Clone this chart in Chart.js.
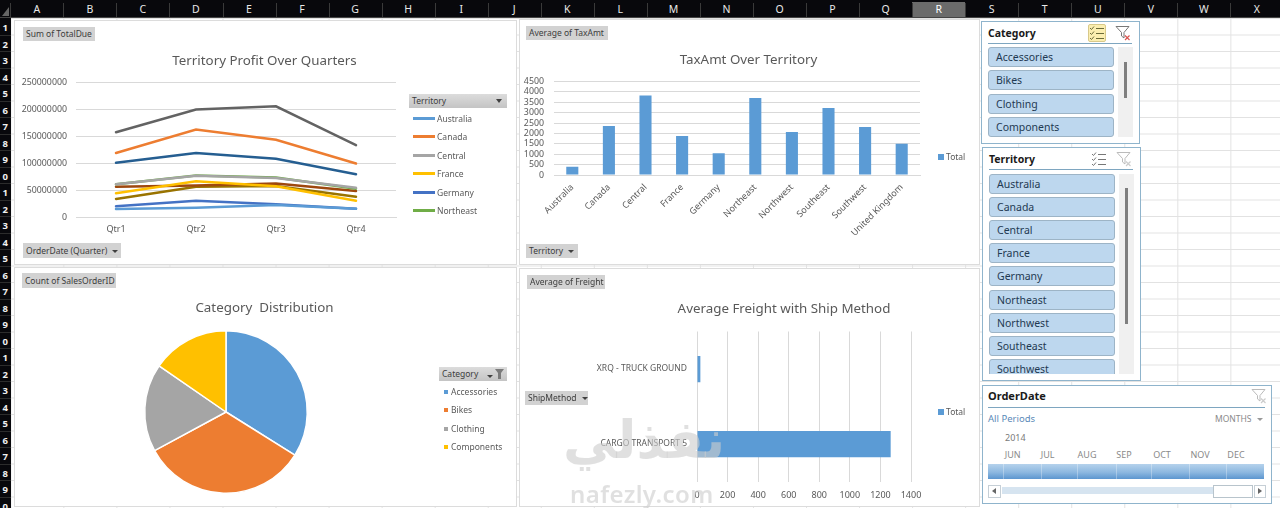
<!DOCTYPE html>
<html><head><meta charset="utf-8">
<script src="https://cdn.jsdelivr.net/npm/chart.js@4/dist/chart.umd.min.js"></script>
<style>
html,body{margin:0;padding:0;background:#fff;overflow:hidden}
#sheet{position:relative;width:1280px;height:508px;overflow:hidden;font-family:"Noto Sans",sans-serif;
 background-color:#fff;
 background-image:linear-gradient(to right,#e2e2e2 1px,transparent 1px),linear-gradient(to bottom,#e2e2e2 1px,transparent 1px);
 background-size:53.05px 16.5px;background-position:10.3px 18px}
.abs{position:absolute;white-space:nowrap;box-sizing:border-box}
#colhead{left:0;top:0;width:1280px;height:18px;background:#08080c;border-bottom:1px solid #444}
#rowhead{left:0;top:18px;width:11px;height:490px;background:#08080c}
.col{position:absolute;top:2px;height:15px;width:53px;color:#e8e8e8;text-align:center;font:10.5px/15px "Noto Sans",sans-serif}
.row{position:absolute;right:3px;color:#f0f0f0;font:bold 9.5px/12px "Noto Sans",sans-serif}
.panel{position:absolute;background:#fff;border:1px solid #dcdcdc;box-sizing:border-box}
canvas{position:absolute;display:block}
.fbtn{position:absolute;background:#d2d2d2;color:#3c3c3c;font:8.5px/14px "Noto Sans",sans-serif;padding-left:3px;box-sizing:border-box;white-space:nowrap}
.fbtn i{display:inline-block;width:0;height:0;border-left:3px solid transparent;border-right:3px solid transparent;border-top:3px solid #404040;margin-left:5px;vertical-align:1px}
.lg{position:absolute;color:#595959;font:8.5px/12px "Noto Sans",sans-serif;white-space:nowrap}
.mark{position:absolute}
.slicer{position:absolute;background:#fff;border:1px solid #8fb4cc;box-sizing:border-box}
.sl-title{position:absolute;font:bold 10.5px/14px "Noto Sans",sans-serif;color:#1a1a1a}
.sl-rule{position:absolute;height:1px;background:#7ea6c0}
.sl-clip{position:absolute;overflow:hidden}
.sl-item{position:absolute;left:0;width:126px;height:20px;background:#bdd7ee;border:1px solid #9db4c6;border-radius:3px;box-sizing:border-box;color:#1f3a52;font:10.5px/18px "Noto Sans",sans-serif;padding-left:7px}
.track{position:absolute;background:#f0f0f0}
.thumb{position:absolute;background:#7f7f7f}
.t{position:absolute;white-space:nowrap}
#wm1,#wm2{position:absolute;color:rgba(205,205,205,.62);white-space:nowrap;z-index:5}
</style></head>
<body><div id="sheet">
<div id="colhead" class="abs"></div><div id="rowhead" class="abs"></div>
<svg class="abs" style="left:2px;top:7px" width="7" height="9"><path d="M7 0V9H0Z" fill="#666"/></svg>
</div>
<script>
// ---------- data ----------
const quarters = ["Qtr1","Qtr2","Qtr3","Qtr4"];
const territoryNames = ["Australia","Canada","Central","France","Germany","Northeast","Northwest","Southeast","Southwest","United Kingdom"];
const australia = [15000000,17000000,22000000,15500000];
const canada    = [118500000,162000000,143000000,99000000];
const central   = [60500000,76500000,72000000,54000000];
const france    = [44000000,66000000,57000000,30000000];
const germany   = [20000000,30000000,23500000,15500000];
const northeast = [60500000,77000000,73000000,52500000];
const northwest = [100500000,118500000,108000000,79000000];
const southeast = [56000000,58500000,62000000,48000000];
const southwest = [157000000,199000000,205000000,133000000];
const unitedKingdom = [33500000,56000000,57500000,37500000];
const taxAmt = [400,2354,3827,1874,1041,3700,2066,3219,2306,1505];
const categories = ["Accessories","Bikes","Clothing","Components"];
const categoryShare = [33.9,33.2,17.5,15.4];
const shipMethods = ["XRQ - TRUCK GROUND","CARGO TRANSPORT 5"];
const avgFreight = [22,1267];
const months = ["JUN","JUL","AUG","SEP","OCT","NOV","DEC"];
const columnLetters = "ABCDEFGHIJKLMNOPQRSTUVWX".split("");

// ---------- palette ----------
const lineColors = ["#5B9BD5","#ED7D31","#A5A5A5","#FFC000","#4472C4","#70AD47","#255E91","#9E480E","#636363","#997300"];
const pieColors = ["#5B9BD5","#ED7D31","#A5A5A5","#FFC000"];
const inkColor = "#595959", gridColor = "#d9d9d9", FF = '"Noto Sans",sans-serif';

const sheet = document.getElementById("sheet");
function el(tag, cls, css, text, parent){
  const e=document.createElement(tag); if(cls)e.className=cls;
  if(css)e.style.cssText=css; if(text!=null)e.textContent=text; (parent||sheet).appendChild(e); return e;
}
// ---------- worksheet chrome ----------
const colhead=document.getElementById("colhead"), rowhead=document.getElementById("rowhead");
columnLetters.forEach((c,i)=>{
  const x=10.3+53.05*i;
  const on=c==="R";
  el("div","col",`left:${x}px;${on?"background:#6b6b6b;color:#fff;":""}`,c,colhead);
  el("div","",`position:absolute;left:${x}px;top:3px;width:1px;height:14px;background:#3a3a3a`,null,colhead);
});
for(let r=1;r<=30;r++){ el("div","row",`top:${4+(r-1)*16.5}px`,String(r%10),rowhead);
  el("div","",`position:absolute;left:0;width:11px;height:1px;background:#2c2c2c;top:${(r)*16.5}px`,null,rowhead);}

// ---------- chart panels ----------
const panels = {
  line:{x:14,y:20,w:503,h:245}, bar:{x:519,y:19,w:461,h:246},
  pie:{x:14,y:267,w:503,h:240}, freight:{x:519,y:268,w:461,h:239}
};
const titleSize = 13.35;
const titleFont = {family:FF,size:titleSize,weight:"normal"};
const tickFont = {family:FF,size:9};
const valueFont = {family:FF,size:8.8};
const titleLH = titleSize*1.2;
const titlePlace = {id:"titlePlace",afterLayout(ch){
  const c=ch.options.plugins.titlePlace.cx; if(c==null)return;
  ch.titleBlock.left=c-150; ch.titleBlock.right=c+150;
}};
function makeCanvas(p){
  const d=el("div","panel",`left:${p.x}px;top:${p.y}px;width:${p.w}px;height:${p.h}px`);
  const c=el("canvas","",`left:0;top:0`,null,d);
  c.width=p.w-2;c.height=p.h-2;c.style.width=(p.w-2)+"px";c.style.height=(p.h-2)+"px";
  return c;
}
function titleOpt(text,p,plotTop,cy){
  const top=cy+1-(p.y+1)-titleLH/2;
  return {display:true,text,color:inkColor,font:titleFont,
    padding:{top,bottom:plotTop-(p.y+1)-top-titleLH}};
}
function base(p,plot,title,cx,cy){
  return {responsive:false,animation:false,devicePixelRatio:1,
    layout:{padding:{left:0,top:0,right:(p.x+p.w-1)-plot.r,bottom:0}},
    plugins:{legend:{display:false},tooltip:{enabled:false},title:titleOpt(title,p,plot.t,cy),
      titlePlace:{cx:cx-(p.x+1)}}};
}
const grid={color:gridColor,lineWidth:1,drawTicks:false};
const noGrid={display:false,drawTicks:false};

// line chart
{
  const p=panels.line, plot={l:76,r:396,t:82,b:217};
  const series=[australia,canada,central,france,germany,northeast,northwest,southeast,southwest,unitedKingdom];
  const opt=base(p,plot,"Territory Profit Over Quarters",264.5,60);
  opt.scales={
    x:{offset:true,grid:noGrid,border:{display:true,color:gridColor},
      ticks:{color:inkColor,font:tickFont,padding:7,maxRotation:0},
      afterFit:s=>{s.height=(p.y+p.h-1)-plot.b}},
    y:{min:0,max:250000000,grid,border:{display:false},
      ticks:{stepSize:50000000,autoSkip:false,color:inkColor,font:valueFont,padding:9,callback:v=>String(v)},
      afterFit:s=>{s.width=plot.l-(p.x+1)}}
  };
  new Chart(makeCanvas(p),{type:"line",plugins:[titlePlace],
    data:{labels:quarters,datasets:series.map((d,i)=>({label:territoryNames[i],data:d,borderColor:lineColors[i],
      backgroundColor:lineColors[i],borderWidth:2.5,pointRadius:0,tension:0,fill:false,borderCapStyle:"round"}))},
    options:opt});
}
// tax bars
{
  const p=panels.bar, plot={l:554,r:920,t:81.5,b:175};
  const opt=base(p,plot,"TaxAmt Over Territory",748.5,59);
  opt.scales={
    x:{grid:noGrid,border:{display:true,color:gridColor},
      ticks:{color:inkColor,font:tickFont,padding:7,minRotation:45,maxRotation:45,autoSkip:false},
      afterFit:s=>{s.height=(p.y+p.h-1)-plot.b}},
    y:{min:0,max:4500,grid,border:{display:false},
      ticks:{stepSize:500,autoSkip:false,color:inkColor,font:valueFont,padding:10,callback:v=>String(v)},
      afterFit:s=>{s.width=plot.l-(p.x+1)}}
  };
  new Chart(makeCanvas(p),{type:"bar",plugins:[titlePlace],
    data:{labels:territoryNames,datasets:[{label:"Total",data:taxAmt,backgroundColor:"#5B9BD5",barPercentage:0.33,categoryPercentage:1}]},
    options:opt});
}
// pie
{
  const p=panels.pie, plot={l:144,r:308,t:330,b:494};
  const opt=base(p,plot,"Category  Distribution",264.5,306.7);
  opt.layout.padding={left:plot.l-(p.x+1),right:(p.x+p.w-1)-plot.r,top:0,bottom:(p.y+p.h-1)-plot.b};
  new Chart(makeCanvas(p),{type:"pie",plugins:[titlePlace],
    data:{labels:categories,datasets:[{data:categoryShare,backgroundColor:pieColors,borderColor:"#fff",borderWidth:1.5}]},
    options:opt});
}
// freight bars
{
  const p=panels.freight, plot={l:697,r:911,t:331.5,b:481.5};
  const opt=base(p,plot,"Average Freight with Ship Method",784,308.3);
  opt.scales={
    x:{min:0,max:1400,grid,border:{display:false},
      ticks:{stepSize:200,autoSkip:false,color:inkColor,font:tickFont,padding:9,callback:v=>String(v)},
      afterFit:s=>{s.height=(p.y+p.h-1)-plot.b}},
    y:{grid:noGrid,border:{display:false},
      ticks:{color:inkColor,font:{family:FF,size:8.5},padding:10,autoSkip:false},
      afterFit:s=>{s.width=plot.l-(p.x+1)}}
  };
  new Chart(makeCanvas(p),{type:"bar",plugins:[titlePlace],
    data:{labels:shipMethods,datasets:[{label:"Total",data:avgFreight,backgroundColor:"#5B9BD5",barPercentage:0.35,categoryPercentage:1}]},
    options:Object.assign(opt,{indexAxis:"y"})});
}

// ---------- pivot field buttons ----------
function fbtn(x,y,w,h,text,arrow){
  const b=el("div","fbtn",`left:${x}px;top:${y}px;width:${w}px;height:${h}px;z-index:3;line-height:${h}px`,text);
  if(arrow) el("i","",null,null,b);
  return b;
}
fbtn(23,27,72,14,"Sum of TotalDue");
fbtn(23,243,98,15,"OrderDate (Quarter)",true);
fbtn(526,26,82,14,"Average of TaxAmt");
fbtn(526,244,52,14,"Territory",true);
fbtn(22,273,94,15,"Count of SalesOrderID");
fbtn(527,275,78,14,"Average of Freight");
fbtn(525,391,63,14,"ShipMethod",true);

// line legend
{
  const b=fbtn(409,94,98,14,"Territory");
  b.style.background="linear-gradient(#dcdcdc,#c4c4c4)";
  el("div","",`position:absolute;right:5px;top:5px;width:0;height:0;border-left:3px solid transparent;border-right:3px solid transparent;border-top:4px solid #404040`,null,b);
  const ys=[118,136,155,173,192,210];
  ys.forEach((y,i)=>{
    el("div","mark",`left:413px;top:${y-1}px;width:22px;height:3px;background:${lineColors[i]};z-index:3`);
    el("div","lg",`left:437px;top:${y-5.5}px;z-index:3`,territoryNames[i]);
  });
}
// pie legend
{
  const b=fbtn(439,367,68,14,"Category");
  b.style.background="linear-gradient(#dcdcdc,#c4c4c4)";
  b.insertAdjacentHTML("beforeend",'<svg style="position:absolute;right:2px;top:2px" width="18" height="10"><path d="M0 6H6L3 9Z" fill="#404040"/><path d="M8 0H17L14 4V10H11V4Z" fill="#7a7a7a"/></svg>');
  [392,410,429,447].forEach((y,i)=>{
    el("div","mark",`left:444px;top:${y-2}px;width:4px;height:4px;background:${pieColors[i]};z-index:3`);
    el("div","lg",`left:451px;top:${y-6}px;z-index:3`,categories[i]);
  });
}
// total legends
[157,412].forEach(y=>{
  el("div","mark",`left:938px;top:${y-3}px;width:6px;height:6px;background:#5B9BD5;z-index:3`);
  el("div","lg",`left:946px;top:${y-6}px;z-index:3`,"Total");
});

// ---------- slicers ----------
const icoCheck=(col)=>`<svg width="16" height="16" viewBox="0 0 16 16" fill="none" stroke="${col}" stroke-width="1"><path d="M1 3l1.5 1.5L5 1.5M1 8l1.5 1.5L5 6.5M1 13l1.5 1.5L5 11.5"/><path d="M7 3.5h8M7 8.5h8M7 13.5h8"/></svg>`;
const icoFilter=(col,x)=>`<svg width="16" height="16" viewBox="0 0 16 16" fill="none"><path d="M1 1.5H14L9 7.5V13L6.5 11V7.5Z" stroke="${col}" fill="#fff"/><path d="M10 10.5l4.5 4.5M14.5 10.5L10 15" stroke="${x}" stroke-width="1.2"/></svg>`;
function slicer(x,y,w,h,title,items,rule,listTop,listH,step,thumbTop,thumbH,first){
  el("div","slicer",`left:${x}px;top:${y}px;width:${w}px;height:${h}px;z-index:2`);
  el("div","sl-title",`left:${x+7}px;top:${y+5}px;z-index:3`,title);
  el("div","sl-rule",`left:${x+7}px;top:${rule}px;width:${w-15}px;z-index:3`);
  const clip=el("div","sl-clip",`left:${x+7}px;top:${listTop}px;width:127px;height:${listH}px;z-index:3`);
  items.forEach((t,i)=>el("div","sl-item",`top:${i*step}px`,t,clip));
  el("div","track",`left:${x+137}px;top:${listTop}px;width:15px;height:${listH}px;z-index:3`);
  el("div","thumb",`left:${x+143}px;top:${thumbTop}px;width:3px;height:${thumbH}px;z-index:3`);
  const ico=el("div","",`position:absolute;left:${x+109}px;top:${y+4}px;z-index:4;line-height:0`);
  const on=title==="Category";
  ico.innerHTML=icoCheck(on?"#6b6b3a":"#777");
  if(on){ico.style.cssText+=";background:#fbeeb0;border:1px solid #d8c98a;border-radius:2px;left:"+(x+107)+"px;top:"+(y+3)+"px"}
  const f=el("div","",`position:absolute;left:${x+134}px;top:${y+4}px;z-index:4;line-height:0`);
  f.innerHTML=icoFilter(on?"#777":"#bbb",on?"#d9534f":"#ccc");
}
slicer(981,21,159,123,"Category",categories,43,47,90,23.3,62,36);
slicer(982,147,159,234,"Territory",territoryNames.slice(0,9),169,173.5,200,23.2,188,136);

// ---------- timeline ----------
{
  const x=982,y=385;
  el("div","slicer",`left:${x}px;top:${y}px;width:290px;height:119px;z-index:2`);
  el("div","sl-title",`left:988px;top:388.5px;font-size:11px;z-index:3`,"OrderDate");
  el("div","sl-rule",`left:988px;top:407px;width:277px;z-index:3`);
  el("div","t",`left:988px;top:412px;font:9.5px/13px ${FF};color:#5a8ab8;z-index:3`,"All Periods");
  el("div","t",`left:1215px;top:413px;font:8.5px/12px ${FF};color:#8a8a8a;z-index:3`,"MONTHS");
  el("div","",`position:absolute;left:1257px;top:418px;width:0;height:0;border-left:3px solid transparent;border-right:3px solid transparent;border-top:3px solid #999;z-index:3`);
  el("div","t",`left:1005px;top:431px;font:9px/13px ${FF};color:#7a7a7a;z-index:3`,"2014");
  const cx=[1012.7,1047.7,1087,1124,1162,1200,1236];
  months.forEach((m,i)=>el("div","t",`left:${cx[i]-15}px;width:30px;text-align:center;top:449px;font:9px/12px ${FF};color:#8a8a8a;z-index:3`,m));
  el("div","",`position:absolute;left:988px;top:464px;width:276px;height:14.5px;background:linear-gradient(#b5d2ec,#8db8e0 55%,#5c96cf);z-index:3`);
  [1003,1041,1077,1116,1151,1189,1226].forEach(v=>el("div","",`position:absolute;left:${v}px;top:464px;width:1px;height:14.5px;background:rgba(255,255,255,.3);z-index:3`));
  el("div","",`position:absolute;left:1002px;top:487px;width:212px;height:7px;background:#d6e4f0;z-index:3`);
  el("div","",`position:absolute;left:1213px;top:484.5px;width:40px;height:13px;background:#fff;border:1px solid #b8c4cc;box-sizing:border-box;z-index:3`);
  el("div","",`position:absolute;left:988px;top:484.5px;width:13px;height:13px;background:#fff;border:1px solid #c6cfd6;box-sizing:border-box;z-index:3`);
  el("div","",`position:absolute;left:1254px;top:484.5px;width:12px;height:13px;background:#fff;border:1px solid #c6cfd6;box-sizing:border-box;z-index:3`);
  el("div","",`position:absolute;left:992px;top:488px;width:0;height:0;border-top:3px solid transparent;border-bottom:3px solid transparent;border-right:4px solid #666;z-index:4`);
  el("div","",`position:absolute;left:1258px;top:488px;width:0;height:0;border-top:3px solid transparent;border-bottom:3px solid transparent;border-left:4px solid #666;z-index:4`);
  const f=el("div","",`position:absolute;left:1251px;top:388px;z-index:4;line-height:0`);
  f.innerHTML=icoFilter("#bbb","#ccc");
}

// ---------- watermark ----------
el("div","",`left:563px;top:410px;font:bold 53px/60px "DejaVu Sans",sans-serif;`,"نفذلي").id="wm1";
el("div","",`left:570px;top:479px;font:600 24px/30px "Noto Sans",sans-serif;letter-spacing:.4px`,"nafezly.com").id="wm2";
</script>
</body></html>
